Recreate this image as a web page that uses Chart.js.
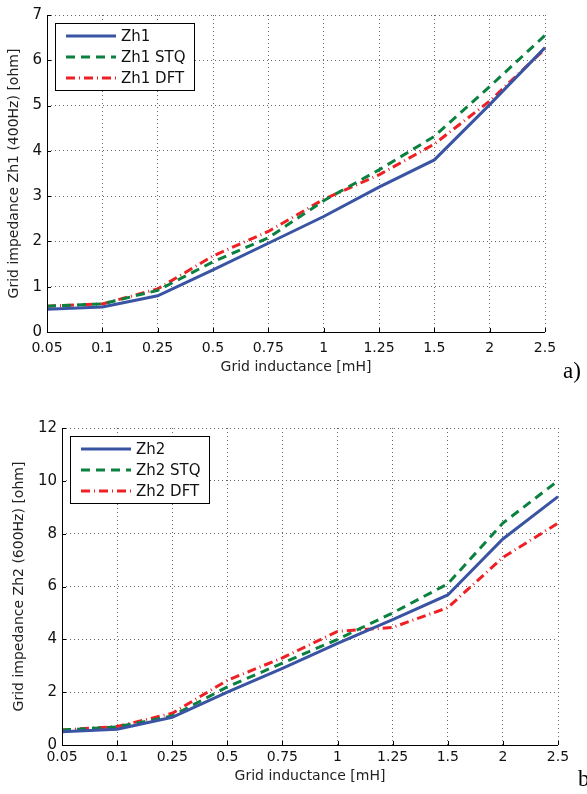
<!DOCTYPE html>
<html lang="en">
<head>
    <meta charset="UTF-8">
    <title>Grid impedance</title>
    <script src="https://cdn.jsdelivr.net/npm/chart.js"></script>
    <style>
        body {
            margin: 0;
            background: #fff;
            width: 587px;
            height: 794px;
            position: relative;
            overflow: hidden;
        }
        canvas { position: absolute; left: 0; }
        #chartA { top: 0; }
        #chartB { top: 395px; }
        .tag {
            position: absolute;
            font-family: "Liberation Serif", serif;
            font-size: 23px;
            color: #000;
        }
    </style>
</head>
<body>
    <canvas id="chartA" width="587" height="390"></canvas>
    <canvas id="chartB" width="587" height="399"></canvas>
    <div class="tag" style="left:563px; top:358px;">a)</div>
    <div class="tag" style="left:578px; top:766px;">b)</div>

    <script>
        const inductance = ['0.05', '0.1', '0.25', '0.5', '0.75', '1', '1.25', '1.5', '2', '2.5'];

        // a) 400Hz
        const zh1 = [0.50, 0.55, 0.80, 1.37, 1.96, 2.55, 3.20, 3.80, 5.02, 6.28];
        const zh1Stq = [0.57, 0.62, 0.92, 1.55, 2.08, 2.90, 3.58, 4.32, 5.42, 6.55];
        const zh1Dft = [0.57, 0.62, 0.95, 1.68, 2.22, 2.93, 3.47, 4.15, 5.10, 6.25];

        // b) 600Hz
        const zh2 = [0.50, 0.60, 1.05, 2.00, 2.90, 3.85, 4.75, 5.68, 7.80, 9.40];
        const zh2Stq = [0.57, 0.68, 1.10, 2.20, 3.10, 4.00, 5.00, 6.10, 8.40, 10.0];
        const zh2Dft = [0.57, 0.70, 1.20, 2.45, 3.30, 4.30, 4.45, 5.20, 7.10, 8.40];

        const blue = '#3a54a4';
        const green = '#0b8140';
        const red = '#ee2024';
        const fontFamily = '"DejaVu Sans", Verdana, sans-serif';

        // legend with a black box, drawn inside the plot like matlab does
        const boxLegend = {
            id: 'boxLegend',
            afterDraw(chart) {
                const ctx = chart.ctx;
                const area = chart.chartArea;
                const x = area.left + 8, y = area.top + 8;
                const w = 139, h = 67;
                ctx.save();
                ctx.fillStyle = '#fff';
                ctx.fillRect(x, y, w, h);
                ctx.strokeStyle = '#000';
                ctx.lineWidth = 1;
                ctx.strokeRect(x + 0.5, y + 0.5, w, h);
                ctx.font = '15px ' + fontFamily;
                ctx.textBaseline = 'middle';
                chart.data.datasets.forEach((ds, i) => {
                    const ly = y + 13 + i * 21;
                    ctx.strokeStyle = ds.borderColor;
                    ctx.lineWidth = ds.borderWidth;
                    ctx.setLineDash(ds.borderDash || []);
                    ctx.beginPath();
                    ctx.moveTo(x + 11, ly);
                    ctx.lineTo(x + 61, ly);
                    ctx.stroke();
                    ctx.setLineDash([]);
                    ctx.fillStyle = '#111';
                    ctx.fillText(ds.label, x + 66, ly + 1);
                });
                ctx.restore();
            }
        };

        // solid black left and bottom axes with small inward ticks
        const axesLines = {
            id: 'axesLines',
            afterDatasetsDraw(chart) {
                const ctx = chart.ctx;
                const a = chart.chartArea;
                ctx.save();
                ctx.strokeStyle = '#000';
                ctx.lineWidth = 1;
                ctx.beginPath();
                ctx.moveTo(Math.round(a.left) + 0.5, a.top);
                ctx.lineTo(Math.round(a.left) + 0.5, Math.round(a.bottom) + 0.5);
                ctx.lineTo(a.right, Math.round(a.bottom) + 0.5);
                chart.scales.x.ticks.forEach((t, i) => {
                    const px = Math.round(chart.scales.x.getPixelForTick(i)) + 0.5;
                    ctx.moveTo(px, a.bottom);
                    ctx.lineTo(px, a.bottom - 4);
                });
                chart.scales.y.ticks.forEach((t, i) => {
                    const py = Math.round(chart.scales.y.getPixelForTick(i)) + 0.5;
                    ctx.moveTo(a.left, py);
                    ctx.lineTo(a.left + 4, py);
                });
                ctx.stroke();
                ctx.restore();
            }
        };

        function makeChart(id, names, series, yMax, yStep, yTitle, geo) {
            const styles = [
                { color: blue, dash: [] },
                { color: green, dash: [9, 6] },
                { color: red, dash: [9, 4, 1, 4] }
            ];
            const datasets = series.map((s, i) => ({
                label: names[i],
                data: s,
                borderColor: styles[i].color,
                borderWidth: 3,
                borderDash: styles[i].dash,
                pointRadius: 0,
                tension: 0,
                fill: false
            }));
            const gridOpts = { color: '#666', drawTicks: false };
            const borderOpts = { display: false, dash: [1, 3] };
            return new Chart(document.getElementById(id).getContext('2d'), {
                type: 'line',
                data: { labels: inductance, datasets: datasets },
                plugins: [axesLines, boxLegend],
                options: {
                    responsive: false,
                    animation: false,
                    devicePixelRatio: 1,
                    layout: { padding: { left: 0, right: geo.right, top: geo.top, bottom: 0 } },
                    plugins: { legend: { display: false }, tooltip: { enabled: false } },
                    scales: {
                        x: {
                            offset: false,
                            afterFit: s => { s.height = geo.xHeight; },
                            grid: gridOpts,
                            border: borderOpts,
                            ticks: { color: '#111', padding: geo.xTickPad, maxRotation: 0, autoSkip: false,
                                     font: { family: fontFamily, size: 14 } },
                            title: { display: true, text: 'Grid inductance [mH]', color: '#222',
                                     font: { family: fontFamily, size: 14 },
                                     padding: { top: 0, bottom: geo.xTitlePad } }
                        },
                        y: {
                            min: 0,
                            max: yMax,
                            afterFit: s => { s.width = geo.yWidth; },
                            grid: gridOpts,
                            border: borderOpts,
                            ticks: { stepSize: yStep, color: '#111', padding: 5,
                                     font: { family: fontFamily, size: 15 } },
                            title: { display: true, text: yTitle, color: '#222',
                                     font: { family: fontFamily, size: 14 },
                                     padding: { top: geo.yTitlePad, bottom: 0 } }
                        }
                    }
                }
            });
        }

        makeChart('chartA', ['Zh1', 'Zh1 STQ', 'Zh1 DFT'], [zh1, zh1Stq, zh1Dft], 7, 1,
            'Grid impedance Zh1 (400Hz) [ohm]',
            { right: 42, top: 15, xHeight: 58, yWidth: 47, xTickPad: 8, xTitlePad: 14, yTitlePad: 6 });

        makeChart('chartB', ['Zh2', 'Zh2 STQ', 'Zh2 DFT'], [zh2, zh2Stq, zh2Dft], 12, 2,
            'Grid impedance Zh2 (600Hz) [ohm]',
            { right: 29, top: 33, xHeight: 49, yWidth: 62, xTickPad: 4, xTitlePad: 9, yTitlePad: 11 });
    </script>
</body>
</html>
